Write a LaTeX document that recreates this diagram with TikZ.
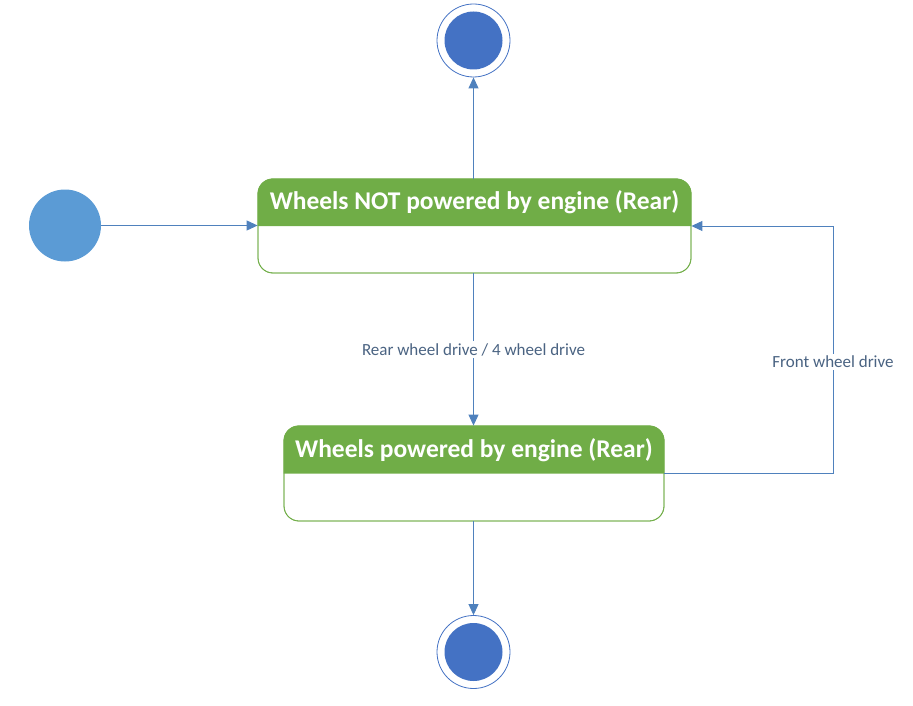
\documentclass[tikz,border=0pt]{standalone}
\usepackage{fontspec}
\setmainfont{Carlito}
\usetikzlibrary{arrows.meta}
\definecolor{hdrgreen}{HTML}{70AD47}
\definecolor{linblue}{HTML}{4F81BD}
\definecolor{initblue}{HTML}{5B9BD5}
\definecolor{finblue}{HTML}{4472C4}
\definecolor{lbltext}{HTML}{4A6382}
\tikzset{
  arr/.style={draw=linblue, line width=0.9pt, -{Triangle[length=11pt,width=10pt]}},
  statebox/.style={draw=hdrgreen, line width=0.8pt, rounded corners=15pt, rectangle, inner sep=0pt},
  hdrtext/.style={text=white, font=\fontsize{25.5}{30}\selectfont\bfseries, inner sep=0pt},
  lbl/.style={text=lbltext, fill=white, font=\fontsize{17}{20}\selectfont, inner sep=2pt},
  initst/.style={circle, fill=initblue, minimum size=72pt, inner sep=0pt},
  finouter/.style={circle, draw=finblue, line width=0.8pt, fill=white, minimum size=73pt, inner sep=0pt},
  fininner/.style={circle, fill=finblue, minimum size=58pt, inner sep=0pt}
}
\begin{document}
\begin{tikzpicture}[x=1pt,y=1pt]
\useasboundingbox (0,0) rectangle (913,-706);
% states
\node[statebox, minimum width=433pt, minimum height=94pt] (s1) at (474.5,-226) {};
\fill[hdrgreen] (s1.west) [rounded corners=15pt] -- (s1.north west) -- (s1.north east) [sharp corners] -- (s1.east) -- cycle;
\node[statebox, minimum width=433pt, minimum height=94pt] at (474.5,-226) {};
\node[hdrtext] (t1) at (474.5,-202.5) {Wheels NOT powered by engine (Rear)};

\node[statebox, minimum width=380pt, minimum height=95pt] (s2) at (474,-473.5) {};
\fill[hdrgreen] (s2.west) [rounded corners=15pt] -- (s2.north west) -- (s2.north east) [sharp corners] -- (s2.east) -- cycle;
\node[statebox, minimum width=380pt, minimum height=95pt] at (474,-473.5) {};
\node[hdrtext] (t2) at (474,-450) {Wheels powered by engine (Rear)};

% initial and final
\node[initst] (init) at (65,-225.5) {};
\node[finouter] (f1) at (473.5,-40.5) {};
\node[fininner] (f1i) at (473.5,-40.5) {};
\node[finouter] (f2) at (473.5,-652) {};
\node[fininner] (f2i) at (473.5,-652) {};

% connectors
\draw[arr] (init.east) -- (init.east -| s1.west);
\draw[arr] (s1.north -| f1) -- (f1.south);
\draw[arr] (s1.south -| f1) -- (s2.north -| f1)
  node[lbl, pos=0.5] (l1) {Rear wheel drive / 4 wheel drive};
\draw[arr] (s2.south -| f2) -- (f2.north);
\coordinate (c1) at (833,-473.5);
\coordinate (c2) at (833,-226);
\draw[arr] (s2.east) -- (c1) -- (c2) -- (s1.east);
\node[lbl] (l2) at (833,-362) {Front wheel drive};
\end{tikzpicture}
\end{document}
